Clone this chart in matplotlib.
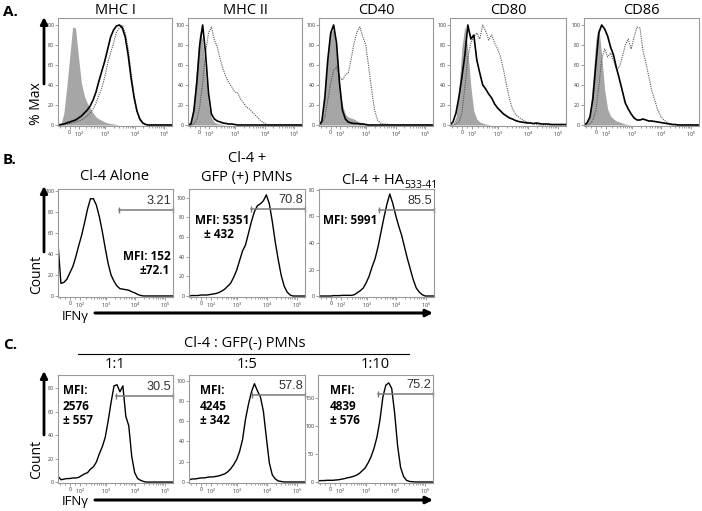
import numpy as np
import matplotlib
matplotlib.use("Agg")
import matplotlib.pyplot as plt

plt.rcParams["font.family"] = ["Open Sans", "DejaVu Sans"]
plt.rcParams["mathtext.fontset"] = "custom"
plt.rcParams["mathtext.rm"] = "Open Sans"
plt.rcParams["mathtext.it"] = "Open Sans:italic"
plt.rcParams["mathtext.bf"] = "Open Sans:bold"

# fluorescence channel values (biexponential steps of 0.1 display units)
XGRID = [-127, -90, -57, -28, 0, 28, 57, 90, 127, 171, 224, 289, 369, 469,
         594, 750, 947, 1194, 1505, 1895, 2389, 3007, 3786, 4766, 6000,
         7553, 9509, 11971, 15071, 18974, 23886, 30071, 37857, 47659,
         60000, 75536, 95094, 119716, 150713, 189737]

XTICKS = [0, 100, 1000, 10000, 100000]
XTICK_LABELS = ["0", "$10^2$", "$10^3$", "$10^4$", "$10^5$"]

# panel A: % of max, gray = isotype, solid = stimulus 1, dotted = stimulus 2
A_TITLES = ["MHC I", "MHC II", "CD40", "CD80", "CD86"]
MHC1_GRAY = [0, 0.5, 12, 38, 68, 98, 97, 68, 42, 29, 22, 17, 12, 8, 6, 4.5, 3, 2, 1.5, 1, 0.5]
MHC1_SOLID = [0, 0.5, 1, 2, 3, 4, 5, 7, 9, 12, 15, 19, 25, 33, 44, 54, 64, 76, 88, 95,
              99, 100, 97, 88, 70, 47, 28, 14, 6, 2, 0.5]
MHC1_DOT = [0, 0, 0.5, 1, 1.5, 2, 3, 4, 5, 7, 9, 12, 16, 22, 30, 37, 48, 62, 72, 82,
            93, 97, 100, 92, 76, 52, 30, 14, 5, 1.5, 0.5]
MHC2_GRAY = [0, 4, 25, 60, 94, 85, 50, 20, 7, 3, 1.5, 1, 0.5]
MHC2_SOLID = [0, 1, 14, 42, 80, 100, 72, 32, 11, 6, 4, 3, 2, 1.5, 1, 1, 0.5]
MHC2_DOT = [0, 0, 1, 5, 18, 42, 72, 92, 98, 85, 78, 66, 56, 48, 42, 38, 33, 32, 26, 22,
            18, 16, 13, 10, 7, 4, 2, 0.5]
CD40_GRAY = [0, 5, 30, 68, 93, 95, 72, 40, 20, 11, 8, 7, 6, 4, 3, 2, 1, 0.5]
CD40_SOLID = [0, 4, 28, 65, 92, 100, 82, 42, 15, 6, 3, 2, 1.5, 1.5, 1, 1, 0.5]
CD40_DOT = [0, 1, 8, 25, 42, 55, 58, 48, 45, 50, 52, 66, 82, 93, 98, 88, 80, 58, 35, 15,
            5, 2, 1, 1, 0.5]
CD80_GRAY = [0, 1, 8, 35, 78, 99, 75, 38, 14, 6, 3, 2, 1, 0.5]
CD80_SOLID = [0, 3, 12, 28, 48, 70, 100, 86, 90, 65, 52, 40, 36, 31, 27, 21, 17, 14, 11, 9,
              7, 6, 4.5, 3.5, 3, 2.5, 2, 2, 1.5, 2, 1.5, 1, 1, 1, 0.5, 0.5, 0.5, 0.5, 0.5, 0.5]
CD80_DOT = [0, 0, 1, 3, 12, 38, 68, 82, 88, 92, 86, 100, 94, 85, 90, 82, 76, 68, 55, 40,
            26, 16, 11, 8, 6, 4, 3, 2, 1, 0.5]
CD86_GRAY = [0, 2, 12, 45, 85, 98, 70, 35, 16, 9, 6, 4, 3, 2, 1, 0.5]
CD86_SOLID = [0, 2, 8, 26, 60, 92, 100, 96, 89, 78, 70, 57, 46, 34, 22, 16, 11, 7, 5, 5,
              6, 5, 4, 4, 3.5, 3, 2.5, 2, 1.5, 1, 0.5, 0.5]
CD86_DOT = [0, 0, 1, 5, 14, 38, 66, 76, 68, 72, 64, 56, 58, 68, 80, 86, 76, 88, 98, 97,
            74, 62, 48, 34, 25, 15, 9, 5, 3, 1.5, 0.5]

# panel B: IFNg counts
CL4_ALONE = [50, 12, 13, 16, 22, 28, 37, 48, 58, 70, 83, 93, 93, 87, 76, 62, 46, 31, 20, 14,
             9.5, 7, 6.5, 6, 5.5, 4, 3, 1.5, 0.5]
CL4_GFP = [0, 0.5, 0.5, 0.5, 1, 1, 1, 1.5, 2, 2.5, 3.5, 5, 7, 10, 13, 19, 26, 36, 46, 52,
           64, 76, 86, 92, 94, 97, 103, 94, 76, 55, 37, 21, 10, 4, 1]
CL4_HA = [0, 0, 0, 0, 0, 0.3, 0.3, 0.3, 0.5, 0.5, 0.5, 0.5, 1, 2.5, 4, 6, 10, 15, 22, 28,
          37, 48, 59, 69, 77, 70, 61, 53, 46, 37, 28, 20, 12, 6, 3, 1]

# panel C: IFNg counts at Cl-4 : GFP(-) PMN ratios
RATIO_1_1 = [5, 2, 2.5, 3, 3, 3.5, 3.5, 4, 5.5, 7, 8, 11, 13, 17, 24, 30, 38, 52, 68, 82,
             83, 77, 82, 56, 48, 22, 8, 3, 1.5, 0.5]
RATIO_1_5 = [2, 3, 3, 3.5, 4, 4, 4.5, 5, 5, 5.5, 6, 7, 8, 10, 13, 17, 22, 30, 42, 62,
             77, 89, 97, 90, 84, 70, 44, 19, 7, 3, 1, 0.5]
RATIO_1_10 = [2, 2.5, 2.5, 3, 3, 3, 3.5, 4, 5, 6, 7.5, 8.5, 10, 12, 15, 20, 25, 34, 45, 60,
              80, 110, 151, 172, 176, 166, 122, 64, 26, 10, 3, 1, 0.5]

# gates: (start channel, gate height, percent label)
B_GATES = [(2750, 82, "3.21"), (2940, 89, "70.8"), (2500, 65, "85.5")]
C_GATES = [(2130, 73.5, "30.5"), (3150, 86, "57.8"), (2550, 156, "75.2")]
GATE_END = 186000

B_MFI = [["MFI: 152", "±72.1"], ["MFI: 5351", "± 432"], ["MFI: 5991"]]
C_MFI = [["MFI:", "2576", "± 557"], ["MFI:", "4245", "± 342"], ["MFI:", "4839", "± 576"]]
C_RATIOS = ["1:1", "1:5", "1:10"]


def fwd(x):
    return np.arcsinh(np.asarray(x, float) / 120.0) / np.log(10)


def inv(u):
    return 120.0 * np.sinh(np.asarray(u, float) * np.log(10))


def pad(vals):
    return list(vals) + [0] * (len(XGRID) - len(vals))


W, H = 702, 511
fig = plt.figure(figsize=(W / 100, H / 100), dpi=100)


def box(l, t, r, b):
    return fig.add_axes([l / W, 1 - b / H, (r - l) / W, (b - t) / H])


def style(ax, ytop, yticks, ybot):
    ax.set_xscale("function", functions=(fwd, inv))
    ax.set_xlim(-127, 189737)
    ax.set_ylim(ybot, ytop)
    ax.set_xticks(XTICKS)
    ax.set_xticklabels(XTICK_LABELS)
    minors = [-100, -50, 50] + [k * 10 ** n for n in (2, 3, 4) for k in range(2, 10)]
    ax.set_xticks(minors, minor=True)
    ax.set_yticks(yticks)
    ax.set_yticklabels([str(v) for v in yticks])
    ax.tick_params(which="both", direction="out", length=2, width=0.5, colors="#777",
                   labelsize=3.8, pad=0.8, labelcolor="#333")
    ax.tick_params(which="minor", length=1.2)
    for s in ax.spines.values():
        s.set_color("#9a9a9a")
        s.set_linewidth(0.8)


def gate(ax, x0, y, label):
    ax.plot([x0, GATE_END], [y, y], color="#7a7a7a", lw=1.1, clip_on=False)
    ax.plot([x0, GATE_END], [y, y], ls="none", marker="|", ms=4, mew=1.0,
            color="#7a7a7a", clip_on=False)
    ax.annotate(label, (GATE_END, y), xytext=(-1, 2), textcoords="offset points",
                ha="right", va="bottom", fontsize=9.2, color="#333",
                family="Liberation Sans")


def up_arrow(x, y0, y1):
    canvas.annotate("", xy=(x, y1), xytext=(x, y0),
                    arrowprops=dict(arrowstyle="-|>", color="black", lw=2.0,
                                    mutation_scale=10, shrinkA=0, shrinkB=0))


canvas = fig.add_axes([0, 0, 1, 1], zorder=10)
canvas.set_xlim(0, W)
canvas.set_ylim(H, 0)
canvas.axis("off")
canvas.patch.set_visible(False)

# ---- panel A ----
a_x = [(58, 172), (188, 302), (319, 433), (450, 566), (584, 699)]
a_data = [(MHC1_GRAY, MHC1_SOLID, MHC1_DOT), (MHC2_GRAY, MHC2_SOLID, MHC2_DOT),
          (CD40_GRAY, CD40_SOLID, CD40_DOT), (CD80_GRAY, CD80_SOLID, CD80_DOT),
          (CD86_GRAY, CD86_SOLID, CD86_DOT)]
for (l, r), title, (gray, solid, dot) in zip(a_x, A_TITLES, a_data):
    ax = box(l, 18, r, 126)
    style(ax, 107, [0, 20, 40, 60, 80, 100], -1)
    ax.fill_between(XGRID, pad(gray), 0, color="#a6a6a6", lw=0)
    ax.plot(XGRID, pad(dot), color="#555", lw=0.8, ls=(0, (1, 1)))
    ax.plot(XGRID, pad(solid), color="black", lw=1.2)
    canvas.text((l + r) / 2, 10, title, ha="center", va="center", fontsize=10.5)

canvas.text(3, 12, "A.", ha="left", va="center", fontsize=11, fontweight="bold")
canvas.text(37, 104, "% Max", rotation=90, ha="center", va="center", fontsize=10)
up_arrow(44, 84, 17)

# ---- panel B ----
b_x = [(58, 173), (189, 305), (319, 434)]
b_curves = [CL4_ALONE, CL4_GFP, CL4_HA]
b_ylim = [(102.3, [0, 20, 40, 60, 80, 100], -1), (109, [0, 20, 40, 60, 80, 100], -1),
          (80.75, [0, 20, 40, 60, 80], -0.75)]
b_mfi_xy = [[(123, 256), (139, 270)], [(195, 220), (204, 234)], [(323, 220)]]
for (l, r), curve, (yt, yk, yb), (gx, gy, gl), mfi, mxy in zip(
        b_x, b_curves, b_ylim, B_GATES, B_MFI, b_mfi_xy):
    ax = box(l, 189, r, 297)
    style(ax, yt, yk, yb)
    ax.plot(XGRID, pad(curve), color="black", lw=1.0)
    gate(ax, gx, gy, gl)
    for s, (tx, ty) in zip(mfi, mxy):
        canvas.text(tx, ty, s, ha="left", va="center", fontsize=8.5, fontweight="bold")

canvas.text(115, 177, "Cl-4 Alone", ha="center", va="center", fontsize=10.5)
canvas.text(247, 158, "Cl-4 +", ha="center", va="center", fontsize=10.5)
canvas.text(247, 178, "GFP (+) PMNs", ha="center", va="center", fontsize=10.5)
canvas.text(404, 184, "Cl-4 + HA", ha="right", va="baseline", fontsize=10.5)
canvas.text(404, 188, "533-41", ha="left", va="baseline", fontsize=7.5)
canvas.text(3, 160, "B.", ha="left", va="center", fontsize=11, fontweight="bold")
canvas.text(37, 274, "Count", rotation=90, ha="center", va="center", fontsize=10)
up_arrow(44, 252, 186)
canvas.text(62, 316.5, "IFNγ", ha="left", va="center", fontsize=9.5)
canvas.annotate("", xy=(433, 313), xytext=(95, 313),
                arrowprops=dict(arrowstyle="-|>", color="black", lw=2.2,
                                mutation_scale=10, shrinkA=0, shrinkB=0))

# ---- panel C ----
c_x = [(58, 173), (189, 305), (318, 433)]
c_curves = [RATIO_1_1, RATIO_1_5, RATIO_1_10]
c_ylim = [(91.3, [0, 20, 40, 60, 80], -0.8), (105.6, [0, 20, 40, 60, 80, 100], -1),
          (190, [0, 50, 100, 150], -1.8)]
c_mfi_x = [63, 200, 330]
for (l, r), curve, (yt, yk, yb), (gx, gy, gl), mfi, mx, ratio in zip(
        c_x, c_curves, c_ylim, C_GATES, C_MFI, c_mfi_x, C_RATIOS):
    ax = box(l, 375, r, 483)
    style(ax, yt, yk, yb)
    ax.plot(XGRID, pad(curve), color="black", lw=1.0)
    gate(ax, gx, gy, gl)
    for s, ty in zip(mfi, [391, 406, 420]):
        canvas.text(mx, ty, s, ha="left", va="center", fontsize=8.5, fontweight="bold")
    canvas.text((l + r) / 2, 365, ratio, ha="center", va="center", fontsize=10.5)

canvas.text(245, 344, "Cl-4 : GFP(-) PMNs", ha="center", va="center", fontsize=10.5)
canvas.plot([78, 409], [354, 354], color="black", lw=0.8)
canvas.text(3, 345, "C.", ha="left", va="center", fontsize=11, fontweight="bold")
canvas.text(37, 459, "Count", rotation=90, ha="center", va="center", fontsize=10)
up_arrow(44, 435, 371)
canvas.text(62, 502, "IFNγ", ha="left", va="center", fontsize=9.5)
canvas.annotate("", xy=(433, 500), xytext=(95, 500),
                arrowprops=dict(arrowstyle="-|>", color="black", lw=2.2,
                                mutation_scale=10, shrinkA=0, shrinkB=0))

fig.savefig("out.png", dpi=100)
